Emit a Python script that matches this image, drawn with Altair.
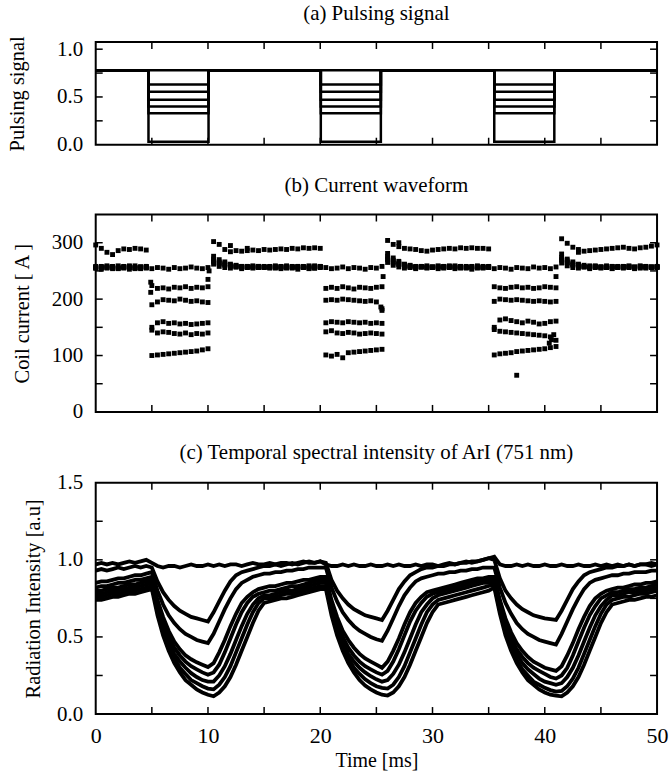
import altair as alt
import pandas as pd

FONT = "Liberation Serif"
W = 563
HA, HB, HC = 103, 198, 232

# ---------------- panel (a): pulsing signal ----------------
pulse_edges = [0, 4.7, 10.05, 20.05, 25.4, 35.5, 40.85, 50]
signal_high = 0.78
signal_levels = [0.78, 0.63, 0.555, 0.47, 0.40, 0.33, 0.03]

# ---------------- shared time grid (ms) ----------------
t_grid = [i * 0.5 for i in range(101)]

# ---------------- panel (b): coil current [A] ----------------
cur_0 = [255,253,256,254,257,255,253,256,254,256,
         254,256,255,253,256,254,255,257,255,254,256,
         262,258,256,255,257,254,256,255,258,256,
         255,257,254,256,255,253,256,254,255,257,
         256,254,255,257,254,256,255,253,256,255,258,
         265,260,257,255,256,254,257,255,256,254,
         255,257,254,256,255,253,256,255,257,
         254,256,255,253,256,255,254,257,255,256,254,257,
         264,259,256,255,257,254,256,255,257,254,
         256,255,257,254,256,255,257,256]
cur_1 = [296,290,283,279,286,289,288,290,289,287,
         224,219,220,218,221,220,222,219,221,220,222,
         302,297,288,284,286,285,286,287,286,288,
         287,288,289,288,290,289,291,290,291,290,
         219,221,219,222,220,218,221,220,219,221,222,
         304,297,293,290,289,288,286,285,287,288,
         289,290,289,291,290,291,290,290,289,
         222,220,219,221,222,220,221,219,220,222,221,220,
         307,299,292,288,285,286,287,288,289,290,
         291,292,290,289,291,292,294,296]
cur_2 = [258,256,259,257,255,258,256,259,257,258,
         190,195,199,198,197,200,198,196,197,195,194,
         276,270,266,262,260,258,257,259,258,256,
         257,259,256,258,257,256,258,257,259,258,
         198,199,198,200,199,198,197,196,197,195,183,
         281,273,267,262,260,258,257,258,256,257,
         258,257,259,257,256,258,257,256,258,
         196,200,199,198,199,198,197,196,197,196,195,196,
         280,271,266,262,260,259,258,257,259,258,
         257,258,256,257,259,258,257,258]
cur_3 = [256,258,255,257,259,256,258,255,257,256,
         150,158,160,157,158,156,157,155,156,157,158,
         271,266,263,260,259,258,256,257,258,257,
         258,256,257,259,256,258,257,255,258,256,
         158,160,159,158,160,159,158,159,157,158,157,
         276,269,264,261,259,257,258,256,257,259,
         256,258,257,255,258,257,259,256,257,
         150,163,165,162,160,158,161,159,156,157,160,161,
         274,268,263,260,258,257,259,257,256,258,
         258,257,259,256,258,257,256,258]
cur_4 = [257,255,258,256,254,257,259,256,255,258,
         145,140,142,141,139,138,140,137,139,138,140,
         268,264,261,259,258,256,258,257,256,258,
         256,258,257,255,258,256,257,259,256,257,
         142,144,140,139,141,140,138,139,140,139,138,
         272,266,262,259,258,256,257,259,257,256,
         257,259,256,258,257,255,258,257,256,
         146,143,142,141,140,139,138,137,136,135,133,127,
         271,265,261,259,258,256,258,257,256,257,
         256,258,257,255,258,256,257,256]
cur_5 = [255,257,256,258,255,257,256,254,257,255,
         100,101,102,103,104,105,106,107,108,110,112,
         266,262,260,258,257,256,258,257,256,257,
         257,255,258,256,257,258,256,257,255,258,
         101,99,102,96,105,106,107,108,109,110,111,
         270,264,261,258,257,256,258,256,257,258,
         258,256,257,258,256,257,255,258,257,
         101,103,104,105,107,108,109,110,111,112,114,116,
         269,264,260,258,257,256,258,256,257,255,
         257,256,258,257,255,258,256,257]
extra_t = [4.9, 4.9, 10.0, 10.1, 25.4, 25.5, 25.6, 37.5, 40.4, 40.6, 40.8, 41.0, 12.0, 13.5, 27.0, 43.0]
extra_i = [230, 212, 235, 250, 186, 180, 240, 65, 122, 128, 137, 240, 295, 290, 300, 283]

# ---------------- panel (c): radiation intensity [a.u] ----------------
int_0 = [.97,.98,.97,.98,.97,.98,.99,.98,.99,1.00,
         .98,.96,.95,.96,.96,.95,.96,.97,.96,.96,.97,
         .96,.97,.96,.97,.97,.96,.97,.98,.97,.97,
         .98,.97,.98,.98,.97,.98,.99,.98,.98,.99,
         .97,.96,.96,.97,.96,.97,.96,.96,.97,.96,.96,
         .97,.96,.97,.96,.96,.97,.96,.97,.97,.96,
         .97,.98,.97,.98,.99,.98,.99,1.00,1.01,
         1.02,.97,.96,.96,.97,.96,.97,.96,.96,.97,.96,.96,
         .97,.96,.96,.97,.96,.96,.97,.96,.97,.96,
         .97,.96,.97,.96,.97,.97,.96,.97]
int_1 = [.93,.94,.93,.94,.95,.94,.95,.96,.95,.96,
         .95,.86,.79,.74,.70,.67,.65,.63,.62,.61,.60,
         .66,.73,.80,.86,.90,.92,.93,.94,.95,.96,
         .96,.97,.96,.97,.98,.97,.98,.99,.98,.99,
         .98,.87,.80,.75,.71,.68,.66,.64,.63,.62,.61,
         .67,.74,.81,.86,.90,.92,.94,.95,.95,.96,
         .96,.97,.97,.98,.98,.99,.99,1.00,1.01,
         1.00,.88,.80,.75,.71,.68,.66,.64,.63,.62,.615,.61,
         .67,.74,.81,.86,.90,.92,.93,.94,.95,.95,
         .96,.96,.97,.96,.97,.97,.98,.97]
int_2 = [.85,.86,.86,.87,.88,.88,.89,.90,.90,.91,
         .92,.80,.71,.64,.59,.55,.52,.50,.48,.47,.46,
         .52,.60,.68,.75,.81,.85,.87,.89,.90,.91,
         .91,.92,.92,.93,.93,.94,.94,.95,.95,.95,
         .95,.82,.73,.66,.61,.57,.54,.52,.50,.485,.475,
         .54,.62,.70,.77,.82,.86,.88,.89,.90,.91,
         .91,.92,.92,.93,.93,.94,.94,.95,.95,
         .95,.82,.72,.65,.59,.55,.52,.50,.48,.47,.46,.45,
         .52,.60,.68,.75,.81,.85,.87,.88,.89,.90,
         .90,.91,.91,.92,.92,.92,.93,.93]
int_3 = [.82,.83,.83,.84,.85,.85,.86,.87,.87,.88,
         .89,.74,.63,.54,.47,.42,.38,.355,.335,.32,.305,
         .33,.40,.48,.57,.65,.72,.76,.79,.81,.82,
         .83,.83,.84,.85,.85,.86,.87,.87,.88,.89,
         .89,.74,.63,.54,.48,.43,.39,.36,.34,.32,.30,
         .34,.41,.49,.58,.66,.72,.76,.79,.80,.81,
         .82,.83,.84,.85,.86,.87,.88,.88,.89,
         .89,.74,.62,.53,.46,.41,.37,.34,.32,.30,.29,.28,
         .31,.38,.46,.55,.63,.70,.75,.78,.80,.81,
         .82,.82,.83,.84,.84,.85,.85,.86]
int_4 = [.80,.80,.81,.82,.82,.83,.84,.84,.85,.86,
         .87,.71,.59,.50,.43,.38,.34,.31,.29,.27,.255,
         .27,.32,.40,.49,.58,.66,.72,.76,.78,.79,
         .80,.80,.81,.82,.83,.83,.84,.85,.86,.87,
         .87,.71,.59,.50,.43,.38,.34,.31,.29,.27,.255,
         .28,.34,.42,.51,.60,.67,.72,.76,.78,.79,
         .80,.81,.82,.83,.84,.85,.86,.86,.87,
         .87,.71,.58,.49,.42,.37,.33,.30,.28,.26,.24,.23,
         .25,.30,.38,.47,.56,.64,.70,.75,.77,.79,
         .79,.80,.81,.81,.82,.82,.83,.84]
int_5 = [.78,.78,.79,.80,.80,.81,.82,.82,.83,.84,
         .85,.69,.56,.47,.39,.34,.30,.265,.24,.22,.21,
         .21,.25,.31,.39,.48,.57,.65,.71,.75,.77,
         .77,.78,.79,.80,.80,.81,.82,.83,.84,.85,
         .85,.69,.56,.47,.39,.34,.30,.27,.245,.225,.21,
         .22,.26,.32,.40,.49,.58,.66,.71,.75,.77,
         .78,.79,.80,.81,.82,.83,.84,.85,.85,
         .86,.69,.56,.46,.39,.33,.29,.26,.23,.21,.20,.19,
         .20,.24,.30,.38,.47,.56,.64,.70,.74,.77,
         .77,.78,.79,.79,.80,.80,.81,.82]
int_6 = [.76,.76,.77,.78,.78,.79,.80,.80,.81,.82,
         .83,.67,.54,.44,.36,.30,.26,.22,.20,.18,.165,
         .16,.19,.24,.31,.40,.49,.58,.66,.72,.75,
         .75,.76,.77,.78,.78,.79,.80,.81,.82,.83,
         .83,.67,.54,.44,.36,.30,.26,.225,.20,.18,.17,
         .165,.19,.24,.31,.40,.49,.58,.66,.71,.74,
         .75,.76,.77,.78,.79,.80,.81,.82,.83,
         .84,.67,.53,.43,.35,.29,.25,.21,.19,.17,.155,.145,
         .15,.18,.23,.30,.39,.48,.57,.65,.71,.74,
         .75,.76,.76,.77,.78,.78,.79,.80]
int_7 = [.74,.74,.75,.76,.76,.77,.78,.78,.79,.80,
         .81,.64,.51,.41,.33,.27,.22,.19,.16,.14,.125,
         .115,.14,.18,.24,.32,.41,.50,.59,.67,.72,
         .73,.74,.75,.75,.76,.77,.78,.79,.80,.81,
         .81,.64,.51,.41,.33,.27,.22,.185,.16,.14,.125,
         .12,.14,.18,.24,.32,.41,.50,.59,.66,.71,
         .72,.73,.74,.75,.76,.77,.78,.79,.80,
         .82,.65,.51,.41,.33,.27,.22,.19,.16,.14,.125,.12,
         .115,.14,.18,.24,.32,.41,.50,.59,.66,.71,
         .72,.73,.74,.74,.75,.76,.76,.77]

x_tick_vals = [5, 10, 15, 20, 25, 30, 35, 40, 45]

# ---------------- build tables ----------------
rows_a = []
for k, lev in enumerate(signal_levels):
    vals = [signal_high, lev, signal_high, lev, signal_high, lev, signal_high, signal_high]
    for t, v in zip(pulse_edges, vals):
        rows_a.append({"t": t, "v": v, "s": f"a{k}"})
df_a = pd.DataFrame(rows_a)

rows_b = []
for k, vals in enumerate([cur_0, cur_1, cur_2, cur_3, cur_4, cur_5]):
    assert len(vals) == len(t_grid), (k, len(vals))
    for t, v in zip(t_grid, vals):
        rows_b.append({"t": t, "v": v})
for t, v in zip(extra_t, extra_i):
    rows_b.append({"t": t, "v": v})
df_b = pd.DataFrame(rows_b)

rows_c = []
for k, vals in enumerate([int_0, int_1, int_2, int_3, int_4, int_5, int_6, int_7]):
    assert len(vals) == len(t_grid), ("c", k, len(vals))
    for t, v in zip(t_grid, vals):
        rows_c.append({"t": t, "v": v, "s": f"c{k}"})
df_c = pd.DataFrame(rows_c)

xscale = alt.Scale(domain=[0, 50], nice=False, zero=False)


def tick_layers(yvals, h, xenc, yenc_fn):
    L = 7
    st = dict(color="black", strokeWidth=1.5)
    xdf = pd.DataFrame({"t": x_tick_vals})
    ydf = pd.DataFrame({"v": yvals})
    bot = alt.Chart(xdf).mark_rule(**st).encode(x=xenc, y=alt.value(h), y2=alt.value(h - L))
    top = alt.Chart(xdf).mark_rule(**st).encode(x=xenc, y=alt.value(0), y2=alt.value(L))
    lef = alt.Chart(ydf).mark_rule(**st).encode(y=yenc_fn(), x=alt.value(0), x2=alt.value(L))
    rig = alt.Chart(ydf).mark_rule(**st).encode(y=yenc_fn(), x=alt.value(W), x2=alt.value(W - L))
    return [bot, top, lef, rig]


def yaxis(values, fmt, title, title_x, h):
    return alt.Axis(values=values, format=fmt, ticks=False, domain=False, grid=False,
                    labelFontSize=21, labelPadding=13, labelFont=FONT, labelColor="black",
                    title=title, titleFont=FONT, titleFontSize=20.5, titleFontWeight="normal",
                    titleColor="black", titleAngle=270, titleBaseline="middle",
                    titleX=title_x, titleY=h / 2)


def ptitle(text, offset):
    return alt.Title(text, font=FONT, fontSize=21, fontWeight="normal", color="black",
                     offset=offset, anchor="middle", frame="group")


# panel a
xa = alt.X("t:Q", scale=xscale, axis=None)
ya = lambda: alt.Y("v:Q", scale=alt.Scale(domain=[0, 1.075], nice=False),
                   axis=yaxis([0, 0.5, 1.0], ".1f", "Pulsing signal", -78, HA))
main_a = alt.Chart(df_a).mark_line(color="black", strokeWidth=2.5, interpolate="step-after").encode(
    x=xa, y=ya(), detail="s:N")
pa = alt.layer(main_a, *tick_layers([0.25, 0.5, 0.75, 1.0], HA, xa, ya)).properties(
    width=W, height=HA, title=ptitle("(a) Pulsing signal", 12))

# panel b
xb = alt.X("t:Q", scale=xscale, axis=None)
yb = lambda: alt.Y("v:Q", scale=alt.Scale(domain=[0, 350], nice=False),
                   axis=yaxis([0, 100, 200, 300], "d", "Coil current [ A ]", -73, HB))
main_b = alt.Chart(df_b).mark_square(color="black", size=24, opacity=1).encode(x=xb, y=yb())
pb = alt.layer(main_b, *tick_layers([50, 100, 150, 200, 250, 300], HB, xb, yb)).properties(
    width=W, height=HB, title=ptitle("(b) Current waveform", 18))

# panel c
xc = alt.X("t:Q", scale=xscale,
           axis=alt.Axis(values=[0, 10, 20, 30, 40, 50], format="d", ticks=False, domain=False,
                         grid=False, labelFontSize=22, labelPadding=12, labelFlush=False,
                         labelFont=FONT, labelColor="black", title="Time [ms]", titleFont=FONT,
                         titleFontSize=20, titleFontWeight="normal", titleColor="black",
                         titlePadding=4))
yc = lambda: alt.Y("v:Q", scale=alt.Scale(domain=[0, 1.5], nice=False),
                   axis=yaxis([0, 0.5, 1.0, 1.5], ".1f", "Radiation Intensity [a.u]", -62, HC))
main_c = alt.Chart(df_c).mark_line(color="black", strokeWidth=3.8).encode(x=xc, y=yc(), detail="s:N")
pc = alt.layer(main_c, *tick_layers([0.25, 0.5, 0.75, 1.0, 1.25], HC, xc, yc)).properties(
    width=W, height=HC, title=ptitle("(c) Temporal spectral intensity of ArI (751 nm)", 9))

chart = alt.vconcat(pa, pb, pc, spacing=18).properties(
    padding={"left": 7, "top": 0, "right": 2, "bottom": 2},
    background="white",
).configure_view(stroke="black", strokeWidth=2)

chart.save("out.html", embed_options={"renderer": "svg", "actions": False})
